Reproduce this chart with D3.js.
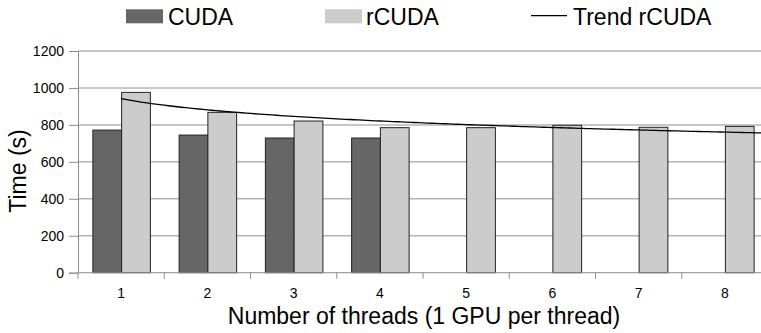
<!DOCTYPE html>
<html>
<head>
<meta charset="utf-8">
<script src="https://cdn.jsdelivr.net/npm/d3@7"></script>
<style>
  html, body { margin: 0; padding: 0; background: #fff; }
  svg { display: block; font-family: "Liberation Sans", Arial, sans-serif; }
</style>
</head>
<body>
<svg id="chart" width="761" height="333"></svg>
<script>
const categories = ["1", "2", "3", "4", "5", "6", "7", "8"];
const cudaValues = [772, 745, 729, 729, null, null, null, null];
const rcudaValues = [976, 868, 821, 785, 785, 798, 787, 792];
const yTicks = [0, 200, 400, 600, 800, 1000, 1200];
const seriesNames = ["CUDA", "rCUDA"];
const seriesColors = ["#666666", "#cccccc"];

(function () {
const svg = d3.select("#chart");
const mLeft = 78, mRight = 768, mTop = 51, mBottom = 272.7;

const x = d3.scaleBand().domain(categories).range([mLeft, mRight]).padding(0);
const xs = d3.scaleBand().domain(seriesNames).range([0, x.bandwidth()]).paddingInner(0).paddingOuter(0.5);
const y = d3.scaleLinear().domain([0, 1200]).range([mBottom, mTop]);

// gridlines
svg.append("g").selectAll("line").data(yTicks.filter(d => d > 0)).join("line")
  .attr("x1", mLeft).attr("x2", mRight)
  .attr("y1", d => y(d)).attr("y2", d => y(d))
  .attr("stroke", "#b4b4b4").attr("stroke-width", 1.5);

// y axis
const yAxis = svg.append("g").attr("transform", `translate(${mLeft},0)`)
  .call(d3.axisLeft(y).tickValues(yTicks).tickFormat(d3.format("d")).tickSize(9).tickPadding(5));
yAxis.select(".domain").attr("stroke", "#8c8c8c");
yAxis.selectAll(".tick line").attr("stroke", "#8c8c8c");
yAxis.selectAll("text").attr("font-size", 14).attr("fill", "#000")
  .attr("font-family", "Liberation Sans, Arial, sans-serif");

// bars
const rows = categories.map((c, i) => ({ c, vals: [cudaValues[i], rcudaValues[i]] }));
const groups = svg.append("g").selectAll("g").data(rows).join("g")
  .attr("transform", d => `translate(${x(d.c)},0)`);
groups.selectAll("rect")
  .data(d => d.vals.map((v, j) => ({ v, s: seriesNames[j], col: seriesColors[j] })).filter(e => e.v != null))
  .join("rect")
  .attr("x", e => xs(e.s) + 0.5)
  .attr("width", xs.bandwidth())
  .attr("y", e => y(e.v))
  .attr("height", e => mBottom - y(e.v))
  .attr("fill", e => e.col)
  .attr("stroke", "#222")
  .attr("stroke-width", 1);

// x axis
const xAxisG = svg.append("g").attr("transform", `translate(0,${mBottom})`);
xAxisG.append("line").attr("x1", mLeft).attr("x2", mRight).attr("y1", 0).attr("y2", 0)
  .attr("stroke", "#8c8c8c");
xAxisG.selectAll("line.tk").data(d3.range(categories.length + 1)).join("line")
  .attr("class", "tk")
  .attr("x1", i => mLeft + i * x.step()).attr("x2", i => mLeft + i * x.step())
  .attr("y1", 0).attr("y2", 6).attr("stroke", "#8c8c8c");
xAxisG.selectAll("text").data(categories).join("text")
  .attr("x", d => x(d) + x.bandwidth() / 2)
  .attr("y", 25.8)
  .attr("text-anchor", "middle")
  .attr("font-size", 14)
  .text(d => d);

// logarithmic trend of rCUDA (least-squares fit of the data)
const lx = rcudaValues.map((v, i) => Math.log(i + 1));
const mx = d3.mean(lx), my = d3.mean(rcudaValues);
const b = d3.sum(lx.map((l, i) => (l - mx) * (rcudaValues[i] - my))) / d3.sum(lx.map(l => (l - mx) ** 2));
const a = my - b * mx;
const xPos = t => mLeft + (t - 0.5) * x.step();
const tPts = d3.range(1, categories.length + 0.5 + 1e-9, 0.05);
svg.append("path")
  .datum(tPts)
  .attr("d", d3.line().x(t => xPos(t)).y(t => y(a + b * Math.log(t))))
  .attr("fill", "none").attr("stroke", "#000").attr("stroke-width", 1.3);

// axis titles
svg.append("text").attr("x", 424).attr("y", 323.5)
  .attr("text-anchor", "middle").attr("font-size", 23)
  .text("Number of threads (1 GPU per thread)");
svg.append("text").attr("transform", "translate(26,171) rotate(-90)")
  .attr("text-anchor", "middle").attr("font-size", 23)
  .text("Time (s)");

// legend
const leg = svg.append("g");
leg.append("rect").attr("x", 126).attr("y", 9.3).attr("width", 37).attr("height", 14).attr("fill", seriesColors[0]);
leg.append("text").attr("x", 168).attr("y", 25).attr("font-size", 23).text("CUDA");
leg.append("rect").attr("x", 325).attr("y", 9.3).attr("width", 37).attr("height", 14).attr("fill", seriesColors[1]);
leg.append("text").attr("x", 366).attr("y", 25).attr("font-size", 23).text("rCUDA");
leg.append("line").attr("x1", 531).attr("x2", 567).attr("y1", 15.7).attr("y2", 15.7).attr("stroke", "#000").attr("stroke-width", 1.3);
leg.append("text").attr("x", 573).attr("y", 25).attr("font-size", 23).text("Trend rCUDA");
})();
</script>
</body>
</html>
